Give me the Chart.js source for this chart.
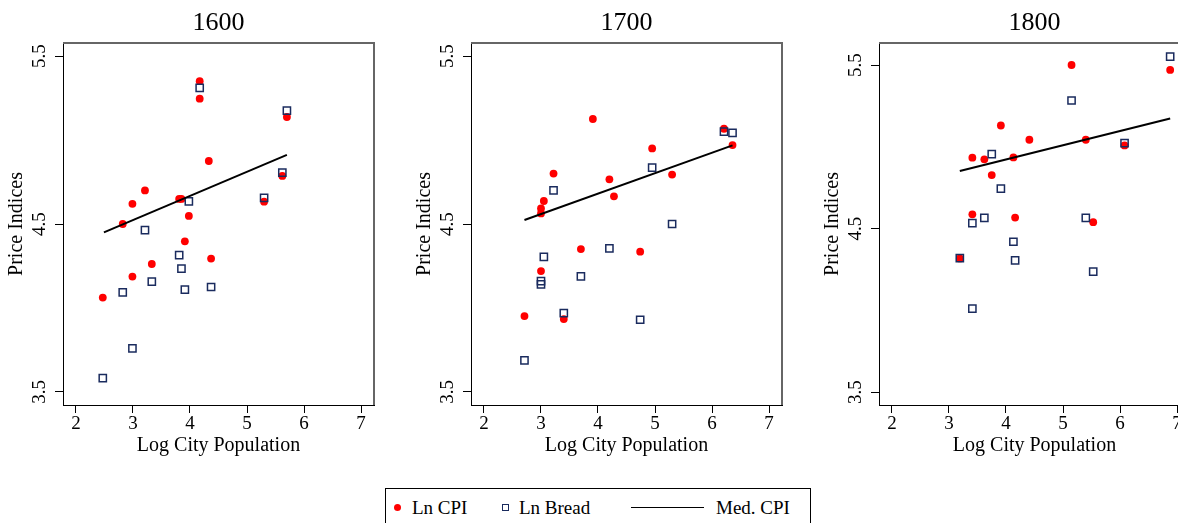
<!DOCTYPE html>
<html>
<head>
<meta charset="utf-8">
<script src="https://cdn.jsdelivr.net/npm/chart.js@4"></script>
<style>
  html, body { margin: 0; padding: 0; background: #fff; }
  body { width: 1178px; height: 523px; overflow: hidden; position: relative;
         font-family: "Liberation Serif", "Times New Roman", serif; }
  .panel { position: absolute; top: 0; width: 408px; height: 460px; }
  #legend { position: absolute; left: 385px; top: 488px; width: 424px; height: 50px;
            border: 1px solid #000; font-size: 19px; color: #000; }
  #legend span { position: absolute; }
  .lbl { top: 8px; line-height: 22px; }
</style>
</head>
<body>
<div class="panel" style="left:0"><canvas id="p1600" width="408" height="460"></canvas></div>
<div class="panel" style="left:408px"><canvas id="p1700" width="408" height="460"></canvas></div>
<div class="panel" style="left:816px"><canvas id="p1800" width="408" height="460"></canvas></div>
<div id="legend">
  <span style="left:8px;top:15px;width:7px;height:7px;border-radius:50%;background:#ff0000"></span>
  <span class="lbl" style="left:26px">Ln CPI</span>
  <span style="left:116px;top:15px;width:5px;height:5px;border:1.3px solid #1a2b5e"></span>
  <span class="lbl" style="left:133px">Ln Bread</span>
  <span style="left:245px;top:18px;width:73px;height:0;border-top:1.6px solid #000"></span>
  <span class="lbl" style="left:330px">Med. CPI</span>
</div>
<script>
// ── 데이터 ────────────────────────────────────────────────
const xTicks = [2, 3, 4, 5, 6, 7];
const yTicks = [3.5, 4.5, 5.5];

// 1600
const cpiX1600 = [4.17, 4.17, 5.70, 4.33, 5.62, 3.21, 2.99, 3.81, 3.85, 5.30, 3.98, 2.82, 3.91, 4.37, 3.33, 2.99, 2.47];
const cpiY1600 = [5.35, 5.246, 5.137, 4.875, 4.786, 4.70, 4.62, 4.649, 4.649, 4.633, 4.548, 4.50, 4.397, 4.294, 4.262, 4.187, 4.062];
const breadX1600 = [4.17, 5.70, 5.62, 5.30, 3.98, 3.21, 3.81, 3.85, 3.33, 4.37, 3.91, 2.82, 2.99, 2.47];
const breadY1600 = [5.31, 5.175, 4.806, 4.655, 4.635, 4.464, 4.315, 4.234, 4.157, 4.125, 4.109, 4.093, 3.76, 3.583];
const medX1600 = [2.49, 5.70];
const medY1600 = [4.450, 4.911];

// 1700
const cpiX1700 = [3.91, 6.21, 6.36, 4.95, 3.22, 4.20, 5.30, 4.28, 3.05, 3.00, 3.00, 3.70, 4.74, 3.00, 2.71, 3.40];
const cpiY1700 = [5.125, 5.067, 4.97, 4.95, 4.80, 4.766, 4.794, 4.665, 4.637, 4.593, 4.563, 4.351, 4.335, 4.22, 3.952, 3.934];
const breadX1700 = [6.21, 6.36, 4.95, 3.22, 5.30, 4.20, 3.05, 3.70, 3.00, 3.00, 3.40, 4.74, 2.71];
const breadY1700 = [5.05, 5.042, 4.835, 4.70, 4.50, 4.355, 4.304, 4.188, 4.16, 4.14, 3.97, 3.93, 3.688];
const medX1700 = [2.71, 6.36];
const medY1700 = [4.524, 4.968];

// 1800
const cpiX1800 = [5.15, 6.88, 3.91, 4.41, 5.40, 6.08, 3.41, 3.62, 4.13, 3.75, 3.41, 4.16, 5.53, 3.19];
const cpiY1800 = [5.5, 5.47, 5.13, 5.043, 5.043, 5.008, 4.933, 4.923, 4.935, 4.827, 4.587, 4.567, 4.539, 4.317];
const breadX1800 = [6.88, 5.15, 6.08, 3.75, 3.91, 3.62, 5.40, 3.41, 4.13, 4.16, 3.19, 5.53, 3.41];
const breadY1800 = [5.551, 5.283, 5.022, 4.955, 4.744, 4.565, 4.565, 4.533, 4.419, 4.305, 4.319, 4.236, 4.010];
const medX1800 = [3.19, 6.88];
const medY1800 = [4.852, 5.173];

// ── 공통 설정 ─────────────────────────────────────────────
Chart.defaults.font.family = '"Liberation Serif", "Times New Roman", serif';
Chart.defaults.color = "#000";

const pts = (xs, ys) => xs.map((x, i) => ({ x, y: ys[i] }));

// 위·오른쪽 테두리
const frame = {
  id: "frame",
  afterDraw(chart) {
    const a = chart.chartArea, ctx = chart.ctx;
    ctx.save();
    ctx.strokeStyle = "#666";
    ctx.lineWidth = 2;
    ctx.beginPath();
    ctx.moveTo(a.left, a.top);
    ctx.lineTo(a.right, a.top);
    ctx.lineTo(a.right, a.bottom);
    ctx.stroke();
    ctx.restore();
  }
};

function makePanel(id, title, cx, cy, bx, by, mx, my, yMin, yMax) {
  return new Chart(document.getElementById(id).getContext("2d"), {
    type: "scatter",
    data: {
      datasets: [
        {
          label: "Med. CPI", type: "line", data: pts(mx, my),
          borderColor: "#000", borderWidth: 2, pointRadius: 0, fill: false, order: 0
        },
        {
          label: "Ln Bread", data: pts(bx, by),
          pointStyle: "rect", pointRadius: 5.1, borderWidth: 1.5,
          borderColor: "#1a2b5e", backgroundColor: "rgba(0,0,0,0)", order: 1
        },
        {
          label: "Ln CPI", data: pts(cx, cy),
          pointStyle: "circle", pointRadius: 3.9, borderWidth: 0,
          backgroundColor: "#ff0000", order: 2
        }
      ]
    },
    options: {
      responsive: false, animation: false,
      layout: { padding: { left: 0, right: 34, top: 0, bottom: 0 } },
      plugins: {
        legend: { display: false },
        tooltip: { enabled: false },
        title: {
          display: true, text: title, fullSize: false,
          font: { size: 26, weight: "normal", lineHeight: 1.2 },
          padding: { top: 7.4, bottom: 4.4 }
        }
      },
      scales: {
        x: {
          type: "linear", min: 1.772, max: 7.228,
          afterBuildTicks: s => { s.ticks = xTicks.map(v => ({ value: v })); },
          afterFit: s => { s.height = 55; },
          ticks: { font: { size: 19 }, padding: 0, callback: v => String(v) },
          grid: { drawOnChartArea: false, tickLength: 8, tickColor: "#000", tickWidth: 1 },
          border: { color: "#000", width: 1 },
          title: { display: true, text: "Log City Population", font: { size: 20 }, padding: { top: 0, bottom: 2 } }
        },
        y: {
          type: "linear", min: yMin, max: yMax,
          afterBuildTicks: s => { s.ticks = yTicks.map(v => ({ value: v })); },
          afterFit: s => { s.width = 63; },
          ticks: { font: { size: 19 }, padding: 3, minRotation: 90, maxRotation: 90,
                   crossAlign: "center", callback: v => v.toFixed(1) },
          grid: { drawOnChartArea: false, tickLength: 8, tickColor: "#000", tickWidth: 1 },
          border: { color: "#000", width: 1 },
          title: { display: true, text: "Price Indices", font: { size: 20 }, padding: { top: 5, bottom: 0 } }
        }
      }
    },
    plugins: [frame]
  });
}

makePanel("p1600", "1600", cpiX1600, cpiY1600, breadX1600, breadY1600, medX1600, medY1600, 3.4226, 5.5774);
makePanel("p1700", "1700", cpiX1700, cpiY1700, breadX1700, breadY1700, medX1700, medY1700, 3.4226, 5.5774);
makePanel("p1800", "1800", cpiX1800, cpiY1800, breadX1800, breadY1800, medX1800, medY1800, 3.4205, 5.6346);
</script>
</body>
</html>
